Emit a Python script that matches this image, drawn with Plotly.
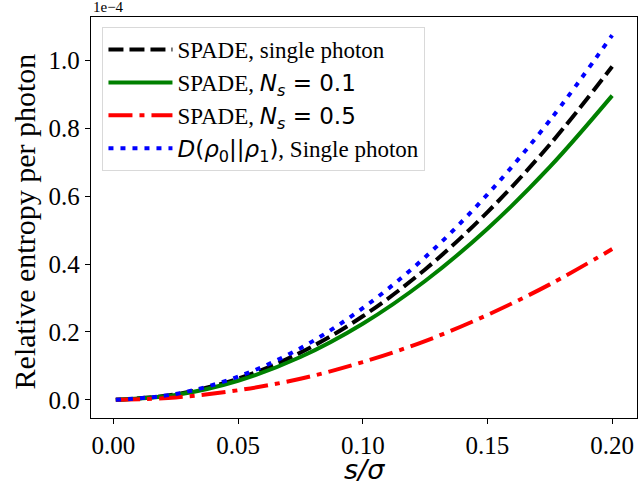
import plotly.graph_objects as go

# Data (values in units of 1e-4)
s_over_sigma = [0.001, 0.025, 0.05, 0.075, 0.1, 0.125, 0.15, 0.175, 0.2]
spade_single = [0.000, 0.016, 0.062, 0.139, 0.246, 0.384, 0.553, 0.752, 0.982]
spade_ns01 = [0.000, 0.014, 0.056, 0.126, 0.224, 0.350, 0.504, 0.686, 0.896]
spade_ns05 = [0.000, 0.007, 0.028, 0.062, 0.111, 0.173, 0.250, 0.340, 0.444]
rel_entropy_single = [0.000, 0.017, 0.068, 0.152, 0.270, 0.420, 0.605, 0.823, 1.074]

x_ticks = [0.0, 0.05, 0.10, 0.15, 0.20]
x_tick_labels = ["0.00", "0.05", "0.10", "0.15", "0.20"]
y_ticks = [0.0, 0.2, 0.4, 0.6, 0.8, 1.0]
y_tick_labels = ["0.0", "0.2", "0.4", "0.6", "0.8", "1.0"]

SERIF = "Liberation Serif, Times New Roman, serif"
MATH = "DejaVu Sans"

def math(s):
    return f"<span style=\"font-family:'{MATH}'\">{s}</span>"

names = [
    "SPADE, single photon",
    "SPADE, " + math("<i>N</i><sub><i>s</i></sub> = 0.1"),
    "SPADE, " + math("<i>N</i><sub><i>s</i></sub> = 0.5"),
    math("<i>D</i>(<i>ρ</i><sub>0</sub>||<i>ρ</i><sub>1</sub>)") + ", Single photon",
]

fig = go.Figure()
fig.add_trace(go.Scatter(x=s_over_sigma, y=spade_single, mode="lines", name=names[0],
                         line=dict(color="black", width=4, dash="15px,6px", shape="spline")))
fig.add_trace(go.Scatter(x=s_over_sigma, y=spade_ns01, mode="lines", name=names[1],
                         line=dict(color="#008000", width=4, shape="spline")))
fig.add_trace(go.Scatter(x=s_over_sigma, y=spade_ns05, mode="lines", name=names[2],
                         line=dict(color="#ff0000", width=4, dash="24px,7px,5px,7px", shape="spline")))
fig.add_trace(go.Scatter(x=s_over_sigma, y=rel_entropy_single, mode="lines", name=names[3],
                         line=dict(color="#0000ff", width=4, dash="5px,7px", shape="spline")))

axis_common = dict(
    showline=True, linecolor="black", linewidth=1.3, mirror=True,
    ticks="outside", ticklen=5, tickwidth=1.3, tickcolor="black",
    showgrid=False, zeroline=False, automargin=False,
    tickfont=dict(family=SERIF, size=25, color="black"),
)

PLOT_TOP, PLOT_BOTTOM = 17, 418
PLOT_H = PLOT_BOTTOM - PLOT_TOP

fig.update_layout(
    width=641, height=491,
    margin=dict(l=91, r=4, t=PLOT_TOP, b=491 - PLOT_BOTTOM, autoexpand=False),
    paper_bgcolor="white", plot_bgcolor="white",
    xaxis=dict(range=[-0.00895, 0.20995], tickvals=x_ticks, ticktext=x_tick_labels, **axis_common),
    yaxis=dict(range=[-0.0537, 1.1277], tickvals=y_ticks, ticktext=y_tick_labels, **axis_common),
    legend=dict(
        x=0.021, y=0.975, xanchor="left", yanchor="top",
        bgcolor="rgba(255,255,255,0.8)", bordercolor="#d9d9d9", borderwidth=1,
        font=dict(family=SERIF, size=23, color="black"),
        itemwidth=64, tracegroupgap=0,
    ),
    showlegend=True,
    annotations=[
        dict(text="Relative entropy per photon", x=-0.121, y=0.49, xref="paper", yref="paper",
             xanchor="center", yanchor="middle", textangle=-90, showarrow=False,
             font=dict(family=SERIF, size=30, color="black")),
        dict(text="s/σ", x=0.5, y=(PLOT_BOTTOM - 470) / PLOT_H, xref="paper", yref="paper",
             xanchor="center", yanchor="middle",
             showarrow=False, font=dict(family=MATH, size=27, color="black", style="italic")),
        dict(text="1e−4", x=0.0, y=1.0, xref="paper", yref="paper", xanchor="left", yanchor="bottom",
             showarrow=False, font=dict(family=SERIF, size=15, color="black")),
    ],
)

fig.write_html("out.html", config={"displayModeBar": False},
               post_script="document.body.style.margin='0';document.body.style.overflow='hidden';")
